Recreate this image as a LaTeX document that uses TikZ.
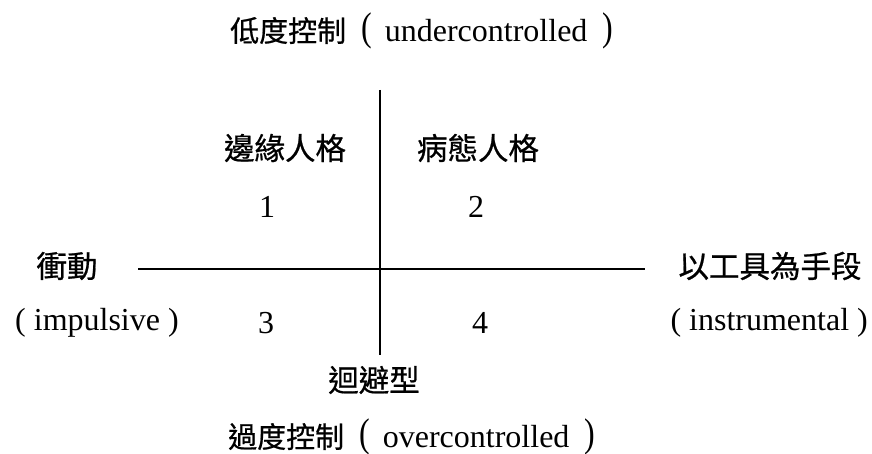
\documentclass[tikz,border=0pt]{standalone}
\usepackage{fontspec}
\setmainfont{Liberation Serif}
\newfontfamily\cjk[FakeBold=0.7]{Noto Sans CJK TC}
\usepackage{tikz}
\usepackage{graphicx}

% tall brackets of the two titles
\newcommand\lpar{\hspace{15pt}\raisebox{1pt}{\scalebox{1}[1.25]{(}}\hspace{13pt}}
\newcommand\rpar{\hspace{15pt}\raisebox{1pt}{\scalebox{1}[1.25]{)}}}

\begin{document}
\begin{tikzpicture}[x=1pt,y=-1pt,
    lbl/.style={inner sep=0pt, font=\fontsize{30.5}{36}\selectfont\cjk},
    en/.style={inner sep=0pt, font=\fontsize{32}{38}\selectfont}]
    \useasboundingbox (0,0) rectangle (872,454);

    % Axes
    \coordinate (top) at (380,90);
    \coordinate (bottom) at (380,355);
    \coordinate (left) at (138,269);
    \coordinate (right) at (645,269);
    \draw[line width=1.2pt] (top) -- (bottom);
    \draw[line width=1.2pt] (left) -- (right);

    % Axis labels
    \node[en, anchor=west] (under) at (230,31) {{\fontsize{29}{35}\selectfont\cjk 低度控制}\lpar undercontrolled\rpar};
    \node[en, anchor=west] (over) at (228,437) {{\fontsize{29}{35}\selectfont\cjk 過度控制}\lpar overcontrolled\rpar};
    \node[lbl] (impzh) at (67,266) {衝動};
    \node[en, anchor=west] (impen) at (15,323) {( impulsive )};
    \node[lbl] (inszh) at (770,266) {以工具為手段};
    \node[en, anchor=east] (insen) at (868,323) {( instrumental )};

    % Quadrants
    \node[lbl] (border) at (285,148) {邊緣人格};
    \node[lbl] (psycho) at (478,148) {病態人格};
    \node[lbl] (avoid) at (374,380) {迴避型};
    \foreach \n/\x/\y in {1/267/207, 2/476/207, 3/266/323, 4/480/323} {
        \node[en] (q\n) at (\x,\y) {\n};
    }
\end{tikzpicture}
\end{document}
